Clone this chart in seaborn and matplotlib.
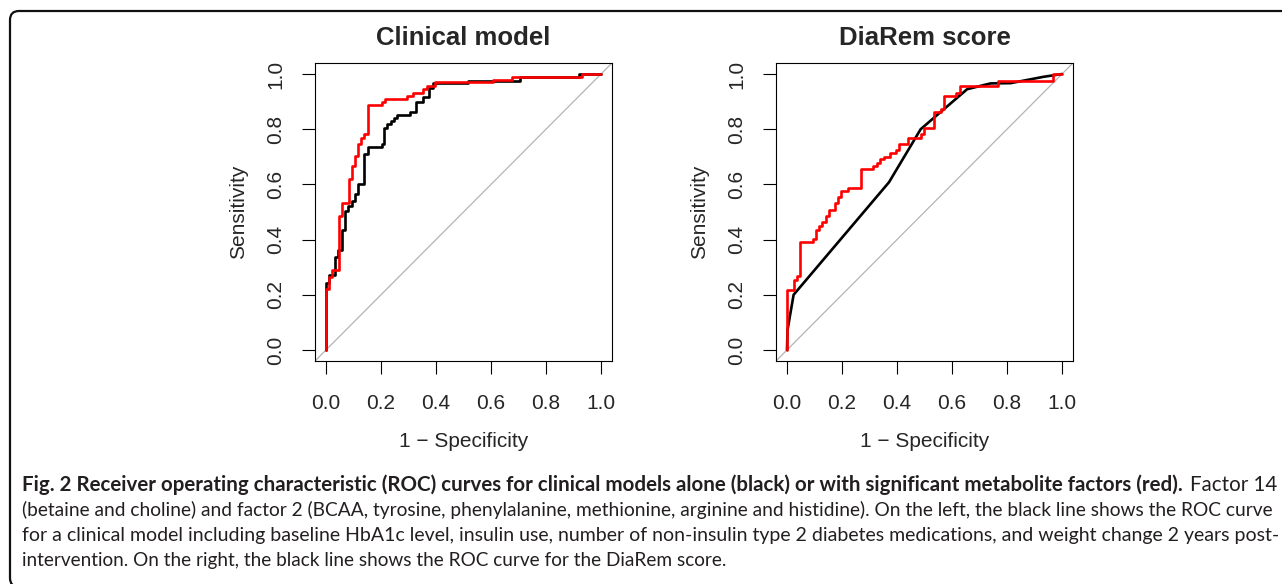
import matplotlib
matplotlib.use('Agg')
import matplotlib.pyplot as plt
import seaborn as sns
from matplotlib import font_manager
from matplotlib.patches import FancyBboxPatch
from matplotlib.transforms import IdentityTransform

# ROC vertices (1 - specificity, sensitivity)
# step curves: each point is the top of a vertical rise
clin_black_fpr = [0.000, 0.000, 0.012, 0.033, 0.045, 0.057, 0.069, 0.081, 0.093, 0.105, 0.118,
                  0.139, 0.154, 0.202, 0.212, 0.223, 0.235, 0.247, 0.259, 0.305, 0.327, 0.354,
                  0.376, 0.388, 0.518, 0.705, 0.921, 1.000]
clin_black_tpr = [0.000, 0.242, 0.273, 0.337, 0.364, 0.436, 0.503, 0.521, 0.539, 0.564, 0.600,
                  0.709, 0.737, 0.748, 0.806, 0.818, 0.830, 0.842, 0.851, 0.863, 0.897, 0.915,
                  0.948, 0.967, 0.976, 0.988, 1.000, 1.000]
clin_red_fpr = [0.000, 0.000, 0.012, 0.022, 0.048, 0.059, 0.084, 0.096, 0.105, 0.118, 0.127,
                0.139, 0.154, 0.202, 0.215, 0.293, 0.318, 0.354, 0.366, 0.396, 0.608, 0.675,
                0.930, 1.000]
clin_red_tpr = [0.000, 0.221, 0.263, 0.288, 0.485, 0.531, 0.621, 0.667, 0.703, 0.745, 0.770,
                0.782, 0.887, 0.897, 0.909, 0.921, 0.933, 0.945, 0.955, 0.970, 0.978, 0.988,
                1.000, 1.000]

# DiaRem score: few thresholds, so black curve is piecewise linear
dia_black_fpr = [0.000, 0.002, 0.024, 0.371, 0.486, 0.655, 0.740, 0.813, 0.933, 1.000]
dia_black_tpr = [0.000, 0.073, 0.200, 0.608, 0.800, 0.945, 0.966, 0.967, 0.990, 1.000]
dia_red_fpr = [0.000, 0.000, 0.024, 0.035, 0.048, 0.093, 0.105, 0.117, 0.129, 0.141, 0.154,
               0.174, 0.186, 0.198, 0.222, 0.268, 0.314, 0.326, 0.339, 0.351, 0.375, 0.397,
               0.409, 0.440, 0.486, 0.498, 0.534, 0.559, 0.571, 0.613, 0.629, 0.768, 0.967, 1.000]
dia_red_tpr = [0.000, 0.218, 0.255, 0.267, 0.390, 0.402, 0.436, 0.448, 0.463, 0.485, 0.507,
               0.531, 0.554, 0.576, 0.588, 0.657, 0.667, 0.679, 0.691, 0.701, 0.713, 0.725,
               0.748, 0.770, 0.782, 0.804, 0.864, 0.875, 0.921, 0.933, 0.955, 0.976, 1.000, 1.000]

titles = ['Clinical model', 'DiaRem score']
ticks = [0.0, 0.2, 0.4, 0.6, 0.8, 1.0]
tick_labels = ['0.0', '0.2', '0.4', '0.6', '0.8', '1.0']

cap_bold = ("Fig. 2 Receiver operating characteristic (ROC) curves for clinical models alone "
            "(black) or with significant metabolite factors (red).")
cap_lines = [
    "Factor 14",
    "(betaine and choline) and factor 2 (BCAA, tyrosine, phenylalanine, methionine, arginine "
    "and histidine). On the left, the black line shows the ROC curve",
    "for a clinical model including baseline HbA1c level, insulin use, number of non-insulin "
    "type 2 diabetes medications, and weight change 2 years post-",
    "intervention. On the right, the black line shows the ROC curve for the DiaRem score.",
]

sns.set_style('ticks')
plt.rcParams['font.family'] = ['Liberation Sans', 'DejaVu Sans']

W, H = 1282, 584
fig = plt.figure(figsize=(W / 100, H / 100), dpi=100)

# rounded frame around figure + caption (pixel coords, origin bottom-left)
frame = FancyBboxPatch((10, -3), 1300, H - 11 + 3,
                       boxstyle='round,pad=0,rounding_size=9',
                       transform=IdentityTransform(), fill=False, lw=1.6, ec='#111111')
fig.patches.append(frame)

panels = [
    (315, clin_black_fpr, clin_black_tpr, clin_red_fpr, clin_red_tpr, True),
    (776, dia_black_fpr, dia_black_tpr, dia_red_fpr, dia_red_tpr, False),
]

for i, (x0, bx, by, rx, ry, black_steps) in enumerate(panels):
    ax = fig.add_axes([x0 / W, 1 - 361 / H, 297 / W, 298 / H])
    ax.plot([-0.04, 1.04], [-0.04, 1.04], color='#b4b4b4', lw=0.9)
    sns.lineplot(x=bx, y=by, ax=ax, sort=False, estimator=None, color='black', lw=1.9,
                 drawstyle='steps-post' if black_steps else 'default')
    sns.lineplot(x=rx, y=ry, ax=ax, sort=False, estimator=None, color='#ff0000', lw=1.9,
                 drawstyle='steps-post')
    ax.set_xlim(-0.04, 1.04)
    ax.set_ylim(-0.04, 1.04)
    ax.set_xticks(ticks)
    ax.set_xticklabels(tick_labels, fontsize=15)
    ax.set_yticks(ticks)
    ax.set_yticklabels(tick_labels, fontsize=15, rotation=90, va='center')
    ax.tick_params(axis='both', direction='out', length=9.5, width=0.8, color='black')
    ax.tick_params(axis='x', pad=14)
    ax.tick_params(axis='y', pad=12)
    for s in ax.spines.values():
        s.set_visible(True)
        s.set_linewidth(0.8)
        s.set_color('black')
    ax.set_xlabel('1 \u2212 Specificity', fontsize=15, labelpad=14)
    ax.set_ylabel('Sensitivity', fontsize=15, labelpad=13)
    ax.set_title(titles[i], fontsize=18.5, fontweight='bold', pad=13)

# caption face: narrow humanist sans if installed
names = {f.name for f in font_manager.fontManager.ttflist}
cap_name = 'Open Sans'
for cand in ['Liberation Sans Narrow', 'Lato', 'Open Sans']:
    if cand in names:
        cap_name = cand
        break
cap_font = [cap_name, 'DejaVu Sans']

fig.canvas.draw()
renderer = fig.canvas.get_renderer()


def text_width(s, fs, wt='normal'):
    t = fig.text(0, 0, s, fontsize=fs, fontweight=wt, family=cap_font)
    w = t.get_window_extent(renderer).width
    t.remove()
    return w


left_px, right_px = 22, 1277
target = right_px - left_px
base_fs = 12.0 * target * 0.985 / text_width(cap_lines[1], 12.0)

# justified lines: one text object per line, size nudged so the line fills the measure
baselines = [491, 516, 541, 566]
cap_kw = dict(family=cap_font, va='baseline', color='#231f20')

# line 1: bold lead-in + regular tail
sp = text_width('a a', base_fs) - text_width('aa', base_fs)
w1 = text_width(cap_bold, base_fs, 'bold') + sp + text_width(cap_lines[0], base_fs)
fs1 = base_fs * target / w1
fig.text(left_px / W, 1 - baselines[0] / H, cap_bold, fontsize=fs1, fontweight='bold',
         ha='left', **cap_kw)
fig.text(right_px / W, 1 - baselines[0] / H, cap_lines[0], fontsize=fs1, ha='right', **cap_kw)

for k in (1, 2):
    f = base_fs * target / text_width(cap_lines[k], base_fs)
    fig.text(left_px / W, 1 - baselines[k] / H, cap_lines[k], fontsize=f, ha='left', **cap_kw)

fig.text(left_px / W, 1 - baselines[3] / H, cap_lines[3], fontsize=base_fs, ha='left', **cap_kw)

fig.savefig('out.png', dpi=100)
